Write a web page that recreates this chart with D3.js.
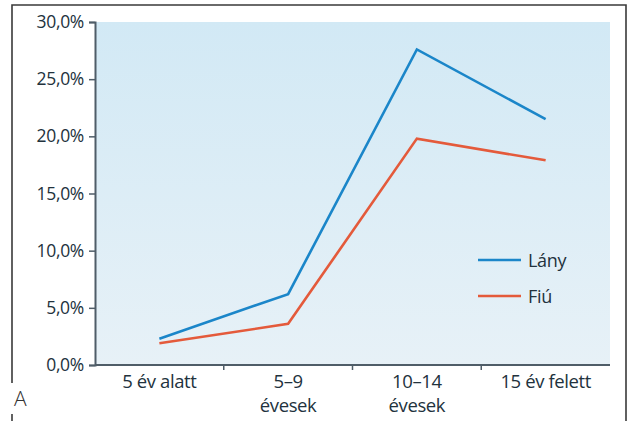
<!DOCTYPE html>
<html lang="hu">
<head>
<meta charset="utf-8">
<script src="https://d3js.org/d3.v7.min.js"></script>
<style>
  body { margin: 0; background: #fff; }
  svg text { font-family: "Open Sans", "Noto Sans", sans-serif; fill: #22323d; }
</style>
</head>
<body>
<script>
// data
var categories = ["5 év alatt", "5–9|évesek", "10–14|évesek", "15 év felett"];
var lany = [0.023, 0.062, 0.276, 0.215];
var fiu = [0.019, 0.036, 0.198, 0.179];
var yTicks = [0, 0.05, 0.10, 0.15, 0.20, 0.25, 0.30];
var seriesNames = ["Lány", "Fiú"];
var seriesColors = ["#1b86c9", "#e45a3b"];

var width = 629, height = 421;
var plotLeft = 95, plotRight = 610, plotTop = 22, plotBottom = 365;

var svg = d3.select("body").append("svg")
    .attr("width", width)
    .attr("height", height);

// frame
svg.append("path")
    .attr("d", "M12,383 V5 H626 V421")
    .attr("fill", "none")
    .attr("stroke", "#3a3a3a")
    .attr("stroke-width", 1.6);
svg.append("line")
    .attr("x1", 12).attr("x2", 12).attr("y1", 414).attr("y2", 421)
    .attr("stroke", "#3a3a3a").attr("stroke-width", 1.6);

svg.append("text")
    .attr("x", 14).attr("y", 406)
    .style("font-size", "21px")
    .style("font-weight", 300)
    .style("fill", "#333")
    .text("A");

// plot background
var grad = svg.append("defs").append("linearGradient")
    .attr("id", "bg").attr("x1", 0).attr("x2", 0).attr("y1", 0).attr("y2", 1);
grad.append("stop").attr("offset", "0%").attr("stop-color", "#d2e9f5");
grad.append("stop").attr("offset", "100%").attr("stop-color", "#e7f1f7");

svg.append("rect")
    .attr("x", plotLeft).attr("y", plotTop)
    .attr("width", plotRight - plotLeft).attr("height", plotBottom - plotTop)
    .attr("fill", "url(#bg)");

var x = d3.scaleBand().domain(categories).range([plotLeft, plotRight]).padding(0);
var y = d3.scaleLinear().domain([0, 0.30]).range([plotBottom, plotTop]);

var huLocale = d3.formatLocale({ decimal: ",", thousands: " ", grouping: [3], currency: ["", " Ft"] });
var fmt = huLocale.format(".1%");

// y axis
var yAxis = svg.append("g")
    .attr("transform", "translate(" + plotLeft + ",0)")
    .call(d3.axisLeft(y).tickValues(yTicks).tickFormat(fmt).tickSize(6).tickPadding(5));
yAxis.selectAll("text")
    .style("font-size", "17.5px")
    .style("font-family", "'Open Sans', sans-serif")
    .style("letter-spacing", "-0.3px")
    .style("fill", "#22323d");
yAxis.select(".domain").attr("stroke", "#4f5d68").attr("stroke-width", 2);
yAxis.selectAll(".tick line").attr("stroke", "#4f5d68").attr("stroke-width", 1.5);

// x axis
var xAxis = svg.append("g")
    .attr("transform", "translate(0," + plotBottom + ")");
xAxis.append("line")
    .attr("x1", plotLeft).attr("x2", plotRight)
    .attr("stroke", "#4f5d68").attr("stroke-width", 2);
xAxis.selectAll(".tk")
    .data(categories.slice(1))
    .enter().append("line")
    .attr("class", "tk")
    .attr("x1", function(d) { return x(d); })
    .attr("x2", function(d) { return x(d); })
    .attr("y1", 0).attr("y2", 5)
    .attr("stroke", "#4f5d68").attr("stroke-width", 1.5);

var xl = xAxis.selectAll(".lbl")
    .data(categories)
    .enter().append("text")
    .attr("class", "lbl")
    .attr("text-anchor", "middle")
    .attr("x", function(d) { return x(d) + x.bandwidth() / 2; })
    .attr("y", 23)
    .style("font-size", "18.5px")
    .style("letter-spacing", "-0.4px");
xl.each(function(d) {
    var parts = d.split("|");
    var t = d3.select(this);
    parts.forEach(function(p, i) {
        t.append("tspan")
            .attr("x", x(d) + x.bandwidth() / 2)
            .attr("dy", i === 0 ? 0 : 24)
            .text(p);
    });
});

// lines
var line = d3.line()
    .x(function(d, i) { return x(categories[i]) + x.bandwidth() / 2; })
    .y(function(d) { return y(d); });

[lany, fiu].forEach(function(s, k) {
    svg.append("path")
        .datum(s)
        .attr("d", line)
        .attr("fill", "none")
        .attr("stroke", seriesColors[k])
        .attr("stroke-width", 2.6)
        .attr("stroke-linejoin", "miter");
});

// legend
var legend = svg.append("g").attr("transform", "translate(478,260)");
seriesNames.forEach(function(n, k) {
    var g = legend.append("g").attr("transform", "translate(0," + (k * 36) + ")");
    g.append("line").attr("x1", 0).attr("x2", 43)
        .attr("stroke", seriesColors[k]).attr("stroke-width", 2.6);
    g.append("text").attr("x", 50).attr("y", 7)
        .style("font-size", "18px")
        .style("letter-spacing", "-0.3px")
        .text(n);
});
</script>
</body>
</html>
